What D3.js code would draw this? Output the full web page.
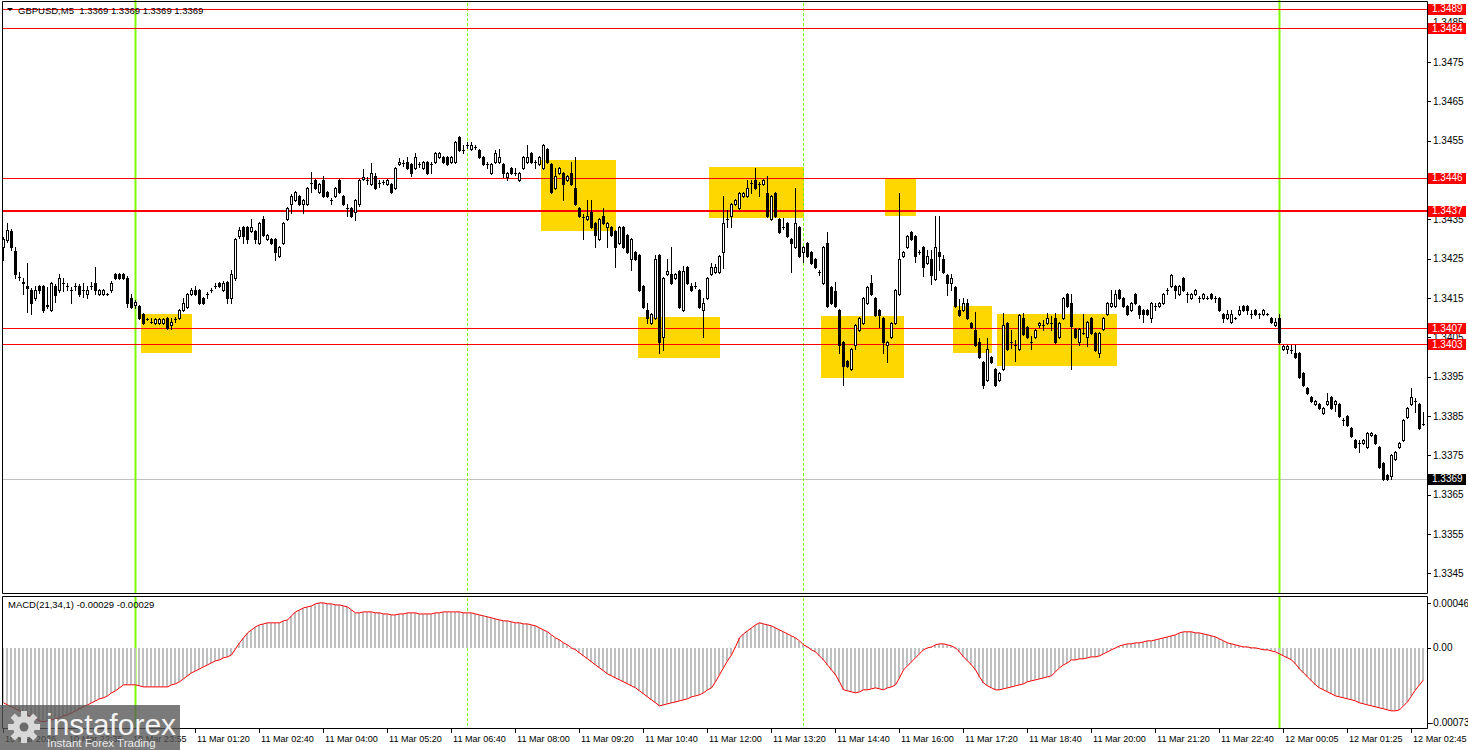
<!DOCTYPE html>
<html><head><meta charset="utf-8">
<script src="https://cdn.jsdelivr.net/npm/d3@7"></script>
<style>
body{margin:0;background:#fff}
svg{display:block}
text{font-family:"Liberation Sans",Arial,sans-serif;font-size:10px}
</style></head>
<body><svg id="c" width="1468" height="750"></svg>
<script>
// ---------------- DATA ----------------
const opens=[1.34280,1.34298,1.34320,1.34270,1.34204,1.34191,1.34181,1.34171,1.34150,1.34181,
1.34181,1.34132,1.34120,1.34181,1.34171,1.34188,1.34181,1.34171,1.34181,1.34181,
1.34171,1.34160,1.34181,1.34188,1.34160,1.34160,1.34160,1.34171,1.34211,1.34211,
1.34211,1.34201,1.34150,1.34132,1.34130,1.34109,1.34097,1.34089,1.34087,1.34087,
1.34087,1.34099,1.34082,1.34097,1.34099,1.34120,1.34127,1.34160,1.34171,1.34171,
1.34150,1.34160,1.34171,1.34181,1.34188,1.34171,1.34191,1.34150,1.34201,1.34308,
1.34331,1.34331,1.34320,1.34320,1.34290,1.34351,1.34300,1.34300,1.34300,1.34257,
1.34290,1.34351,1.34389,1.34399,1.34409,1.34389,1.34389,1.34442,1.34450,1.34420,
1.34450,1.34420,1.34399,1.34409,1.34450,1.34409,1.34379,1.34379,1.34369,1.34389,
1.34453,1.34450,1.34440,1.34460,1.34442,1.34445,1.34440,1.34440,1.34430,1.34491,
1.34493,1.34496,1.34491,1.34481,1.34491,1.34481,1.34496,1.34491,1.34496,1.34508,
1.34508,1.34508,1.34496,1.34496,1.34559,1.34526,1.34539,1.34529,1.34534,1.34526,
1.34508,1.34491,1.34468,1.34496,1.34496,1.34491,1.34458,1.34481,1.34468,1.34450,
1.34481,1.34496,1.34519,1.34496,1.34491,1.34481,1.34529,1.34491,1.34430,1.34468,
1.34468,1.34450,1.34468,1.34430,1.34379,1.34356,1.34351,1.34369,1.34341,1.34300,
1.34359,1.34331,1.34331,1.34320,1.34290,1.34331,1.34310,1.34249,1.34267,1.34259,
1.34181,1.34120,1.34087,1.34099,1.34259,1.34051,1.34211,1.34211,1.34201,1.34219,
1.34120,1.34229,1.34181,1.34181,1.34171,1.34120,1.34150,1.34211,1.34216,1.34216,
1.34267,1.34351,1.34359,1.34389,1.34379,1.34409,1.34409,1.34442,1.34450,1.34440,
1.34440,1.34417,1.34351,1.34417,1.34351,1.34331,1.34341,1.34300,1.34280,1.34331,
1.34267,1.34290,1.34267,1.34249,1.34216,1.34188,1.34290,1.34178,1.34168,1.34120,
1.34038,1.33990,1.33970,1.34031,1.34069,1.34087,1.34138,1.34188,1.34150,1.34120,
1.34099,1.34031,1.34051,1.34087,1.34160,1.34257,1.34280,1.34318,1.34308,1.34267,
1.34280,1.34239,1.34249,1.34198,1.34267,1.34249,1.34209,1.34188,1.34178,1.34120,
1.34120,1.34138,1.34087,1.34069,1.34038,1.33988,1.33942,1.34000,1.33970,1.33942,
1.33970,1.34087,1.34038,1.34031,1.34021,1.34099,1.34077,1.34038,1.34051,1.34082,
1.34082,1.34087,1.34087,1.34099,1.34051,1.34099,1.34160,1.34138,1.34071,1.34038,
1.34061,1.34051,1.34099,1.34061,1.34010,1.34071,1.34109,1.34130,1.34130,1.34171,
1.34150,1.34130,1.34120,1.34160,1.34130,1.34120,1.34120,1.34099,1.34130,1.34130,
1.34138,1.34171,1.34181,1.34181,1.34160,1.34201,1.34160,1.34150,1.34160,1.34150,
1.34150,1.34150,1.34160,1.34150,1.34150,1.34109,1.34099,1.34089,1.34099,1.34109,
1.34130,1.34130,1.34109,1.34120,1.34109,1.34109,1.34109,1.34099,1.34082,1.34099,
1.34021,1.34021,1.34018,1.34010,1.34010,1.33960,1.33922,1.33899,1.33881,1.33881,
1.33858,1.33881,1.33899,1.33881,1.33881,1.33840,1.33850,1.33820,1.33789,1.33782,
1.33782,1.33772,1.33802,1.33802,1.33772,1.33731,1.33700,1.33698,1.33741,1.33772,
1.33789,1.33848,1.33881,1.33888,1.33881,1.33830];

const highs=[1.34305,1.34341,1.34326,1.34280,1.34216,1.34201,1.34239,1.34176,1.34181,1.34183,
1.34183,1.34178,1.34191,1.34186,1.34211,1.34201,1.34188,1.34178,1.34188,1.34186,
1.34188,1.34181,1.34191,1.34229,1.34173,1.34173,1.34163,1.34193,1.34214,1.34214,
1.34214,1.34206,1.34160,1.34145,1.34132,1.34112,1.34099,1.34099,1.34099,1.34099,
1.34099,1.34102,1.34099,1.34102,1.34122,1.34150,1.34163,1.34176,1.34181,1.34173,
1.34153,1.34165,1.34176,1.34188,1.34191,1.34193,1.34193,1.34221,1.34303,1.34331,
1.34333,1.34333,1.34351,1.34323,1.34343,1.34359,1.34313,1.34303,1.34303,1.34282,
1.34343,1.34381,1.34414,1.34422,1.34412,1.34402,1.34432,1.34470,1.34453,1.34442,
1.34460,1.34422,1.34404,1.34432,1.34453,1.34412,1.34389,1.34381,1.34402,1.34453,
1.34478,1.34458,1.34493,1.34468,1.34450,1.34450,1.34453,1.34442,1.34483,1.34506,
1.34501,1.34508,1.34493,1.34519,1.34496,1.34498,1.34498,1.34496,1.34521,1.34521,
1.34511,1.34511,1.34511,1.34549,1.34562,1.34539,1.34547,1.34547,1.34539,1.34529,
1.34511,1.34496,1.34493,1.34526,1.34529,1.34493,1.34470,1.34483,1.34481,1.34470,
1.34511,1.34539,1.34521,1.34501,1.34511,1.34542,1.34531,1.34493,1.34481,1.34483,
1.34470,1.34463,1.34496,1.34508,1.34381,1.34364,1.34399,1.34399,1.34343,1.34354,
1.34379,1.34343,1.34333,1.34323,1.34333,1.34333,1.34313,1.34303,1.34270,1.34262,
1.34183,1.34138,1.34112,1.34259,1.34262,1.34204,1.34249,1.34280,1.34214,1.34221,
1.34232,1.34232,1.34188,1.34191,1.34173,1.34150,1.34204,1.34239,1.34237,1.34259,
1.34409,1.34374,1.34392,1.34402,1.34420,1.34420,1.34450,1.34450,1.34481,1.34445,
1.34453,1.34460,1.34412,1.34420,1.34354,1.34354,1.34343,1.34303,1.34430,1.34333,
1.34282,1.34293,1.34270,1.34252,1.34221,1.34282,1.34318,1.34181,1.34191,1.34122,
1.34041,1.33993,1.34023,1.34084,1.34102,1.34153,1.34181,1.34209,1.34153,1.34122,
1.34102,1.34041,1.34089,1.34173,1.34417,1.34270,1.34310,1.34320,1.34310,1.34272,
1.34282,1.34272,1.34272,1.34359,1.34359,1.34259,1.34211,1.34211,1.34181,1.34148,
1.34150,1.34148,1.34089,1.34115,1.34049,1.33990,1.34049,1.34003,1.33972,1.33962,
1.34112,1.34089,1.34069,1.34044,1.34109,1.34112,1.34079,1.34054,1.34071,1.34089,
1.34094,1.34112,1.34104,1.34112,1.34089,1.34153,1.34163,1.34160,1.34074,1.34074,
1.34109,1.34092,1.34102,1.34064,1.34064,1.34102,1.34140,1.34171,1.34171,1.34173,
1.34153,1.34132,1.34140,1.34163,1.34132,1.34122,1.34122,1.34140,1.34138,1.34140,
1.34163,1.34176,1.34211,1.34183,1.34183,1.34204,1.34165,1.34163,1.34173,1.34155,
1.34163,1.34155,1.34163,1.34155,1.34153,1.34112,1.34120,1.34120,1.34102,1.34130,
1.34132,1.34132,1.34120,1.34122,1.34112,1.34122,1.34112,1.34102,1.34099,1.34109,
1.34031,1.34031,1.34031,1.34031,1.34013,1.33962,1.33924,1.33901,1.33891,1.33883,
1.33873,1.33909,1.33901,1.33891,1.33883,1.33845,1.33853,1.33822,1.33792,1.33789,
1.33792,1.33810,1.33810,1.33805,1.33774,1.33733,1.33703,1.33754,1.33761,1.33784,
1.33843,1.33873,1.33922,1.33896,1.33883,1.33860];

const lows=[1.34247,1.34293,1.34272,1.34201,1.34196,1.34160,1.34115,1.34109,1.34145,1.34163,
1.34115,1.34125,1.34117,1.34140,1.34165,1.34168,1.34171,1.34138,1.34171,1.34155,
1.34153,1.34150,1.34173,1.34160,1.34158,1.34158,1.34158,1.34165,1.34198,1.34198,
1.34198,1.34127,1.34125,1.34125,1.34097,1.34084,1.34094,1.34087,1.34084,1.34084,
1.34084,1.34071,1.34071,1.34089,1.34097,1.34117,1.34125,1.34158,1.34158,1.34135,
1.34135,1.34150,1.34165,1.34176,1.34178,1.34168,1.34138,1.34138,1.34196,1.34303,
1.34290,1.34290,1.34318,1.34290,1.34287,1.34308,1.34298,1.34287,1.34247,1.34254,
1.34287,1.34348,1.34366,1.34397,1.34387,1.34366,1.34387,1.34420,1.34427,1.34417,
1.34407,1.34407,1.34389,1.34407,1.34417,1.34387,1.34359,1.34356,1.34348,1.34384,
1.34450,1.34440,1.34437,1.34427,1.34432,1.34440,1.34437,1.34417,1.34427,1.34488,
1.34486,1.34478,1.34460,1.34478,1.34483,1.34478,1.34465,1.34468,1.34493,1.34506,
1.34493,1.34488,1.34493,1.34493,1.34524,1.34519,1.34531,1.34526,1.34529,1.34506,
1.34488,1.34481,1.34465,1.34493,1.34493,1.34458,1.34450,1.34465,1.34463,1.34448,
1.34478,1.34493,1.34493,1.34481,1.34488,1.34478,1.34493,1.34417,1.34427,1.34465,
1.34399,1.34448,1.34437,1.34387,1.34356,1.34300,1.34348,1.34328,1.34280,1.34298,
1.34338,1.34280,1.34308,1.34229,1.34287,1.34277,1.34265,1.34221,1.34247,1.34168,
1.34125,1.34087,1.34084,1.34097,1.34010,1.34018,1.34209,1.34186,1.34198,1.34125,
1.34117,1.34186,1.34168,1.34176,1.34125,1.34051,1.34148,1.34209,1.34214,1.34214,
1.34226,1.34331,1.34331,1.34387,1.34376,1.34407,1.34407,1.34417,1.34427,1.34409,
1.34437,1.34356,1.34348,1.34356,1.34315,1.34326,1.34305,1.34216,1.34277,1.34254,
1.34242,1.34254,1.34237,1.34226,1.34209,1.34186,1.34127,1.34135,1.34127,1.34010,
1.33929,1.33975,1.33967,1.34021,1.34066,1.34084,1.34135,1.34158,1.34104,1.34077,
1.34010,1.33988,1.34049,1.34084,1.34158,1.34254,1.34277,1.34298,1.34242,1.34262,
1.34206,1.34237,1.34186,1.34196,1.34221,1.34214,1.34158,1.34171,1.34127,1.34104,
1.34117,1.34097,1.34074,1.34028,1.33998,1.33922,1.33939,1.33985,1.33927,1.33939,
1.33967,1.34018,1.34023,1.33990,1.34018,1.34056,1.34049,1.34021,1.34049,1.34077,
1.34069,1.34084,1.34069,1.34036,1.34049,1.34097,1.34127,1.33970,1.34049,1.34031,
1.34059,1.34028,1.34059,1.34016,1.34000,1.34069,1.34107,1.34127,1.34127,1.34148,
1.34127,1.34107,1.34117,1.34135,1.34099,1.34089,1.34107,1.34089,1.34120,1.34127,
1.34135,1.34160,1.34178,1.34150,1.34158,1.34168,1.34140,1.34148,1.34158,1.34140,
1.34148,1.34148,1.34148,1.34140,1.34117,1.34089,1.34097,1.34087,1.34097,1.34107,
1.34117,1.34109,1.34099,1.34107,1.34099,1.34107,1.34107,1.34087,1.34079,1.34036,
1.34018,1.34010,1.34010,1.33998,1.33947,1.33927,1.33906,1.33886,1.33878,1.33868,
1.33855,1.33878,1.33868,1.33863,1.33848,1.33828,1.33825,1.33797,1.33769,1.33759,
1.33779,1.33769,1.33800,1.33779,1.33718,1.33688,1.33688,1.33690,1.33739,1.33769,
1.33787,1.33845,1.33878,1.33860,1.33817,1.33828];

const closes=[1.34300,1.34323,1.34280,1.34211,1.34204,1.34188,1.34176,1.34138,1.34171,1.34171,
1.34120,1.34130,1.34188,1.34158,1.34201,1.34188,1.34181,1.34171,1.34181,1.34160,
1.34171,1.34171,1.34181,1.34171,1.34171,1.34171,1.34160,1.34188,1.34201,1.34201,
1.34201,1.34138,1.34127,1.34140,1.34099,1.34087,1.34097,1.34089,1.34097,1.34097,
1.34097,1.34074,1.34089,1.34097,1.34120,1.34138,1.34160,1.34171,1.34160,1.34138,
1.34138,1.34160,1.34171,1.34181,1.34181,1.34188,1.34150,1.34211,1.34300,1.34323,
1.34308,1.34300,1.34331,1.34300,1.34341,1.34310,1.34310,1.34290,1.34267,1.34280,
1.34341,1.34379,1.34409,1.34420,1.34389,1.34399,1.34430,1.34442,1.34430,1.34440,
1.34409,1.34409,1.34399,1.34430,1.34420,1.34389,1.34379,1.34359,1.34399,1.34450,
1.34458,1.34450,1.34468,1.34430,1.34442,1.34445,1.34450,1.34420,1.34481,1.34496,
1.34493,1.34481,1.34468,1.34508,1.34491,1.34496,1.34468,1.34491,1.34519,1.34519,
1.34496,1.34491,1.34508,1.34547,1.34526,1.34526,1.34539,1.34539,1.34534,1.34508,
1.34491,1.34491,1.34491,1.34519,1.34508,1.34468,1.34468,1.34468,1.34468,1.34468,
1.34508,1.34508,1.34496,1.34496,1.34508,1.34539,1.34496,1.34420,1.34460,1.34481,
1.34440,1.34460,1.34440,1.34389,1.34359,1.34356,1.34359,1.34331,1.34310,1.34351,
1.34341,1.34341,1.34310,1.34280,1.34331,1.34280,1.34267,1.34300,1.34249,1.34171,
1.34127,1.34099,1.34109,1.34249,1.34038,1.34201,1.34219,1.34188,1.34211,1.34127,
1.34219,1.34188,1.34171,1.34181,1.34127,1.34138,1.34201,1.34229,1.34229,1.34257,
1.34341,1.34351,1.34389,1.34399,1.34417,1.34417,1.34430,1.34442,1.34430,1.34440,
1.34450,1.34359,1.34409,1.34359,1.34318,1.34331,1.34308,1.34290,1.34341,1.34257,
1.34280,1.34257,1.34239,1.34229,1.34216,1.34280,1.34130,1.34138,1.34130,1.34031,
1.33977,1.33977,1.34021,1.34082,1.34099,1.34150,1.34178,1.34160,1.34107,1.34107,
1.34038,1.34038,1.34087,1.34171,1.34249,1.34267,1.34308,1.34300,1.34257,1.34267,
1.34229,1.34257,1.34209,1.34280,1.34257,1.34216,1.34188,1.34201,1.34130,1.34107,
1.34138,1.34099,1.34077,1.34031,1.34000,1.33929,1.34021,1.33988,1.33929,1.33960,
1.34082,1.34021,1.34038,1.34031,1.34107,1.34059,1.34051,1.34038,1.34069,1.34087,
1.34082,1.34099,1.34087,1.34038,1.34087,1.34150,1.34130,1.34079,1.34051,1.34071,
1.34061,1.34089,1.34061,1.34018,1.34061,1.34099,1.34138,1.34138,1.34160,1.34150,
1.34130,1.34109,1.34138,1.34138,1.34109,1.34109,1.34109,1.34138,1.34130,1.34138,
1.34160,1.34171,1.34209,1.34171,1.34181,1.34171,1.34160,1.34160,1.34171,1.34150,
1.34160,1.34150,1.34150,1.34150,1.34120,1.34099,1.34109,1.34109,1.34099,1.34120,
1.34120,1.34120,1.34109,1.34109,1.34109,1.34120,1.34109,1.34089,1.34089,1.34038,
1.34028,1.34028,1.34018,1.34000,1.33949,1.33929,1.33909,1.33888,1.33888,1.33871,
1.33871,1.33888,1.33871,1.33888,1.33850,1.33840,1.33828,1.33800,1.33772,1.33782,
1.33789,1.33807,1.33807,1.33782,1.33721,1.33690,1.33690,1.33751,1.33759,1.33782,
1.33840,1.33871,1.33899,1.33888,1.33820,1.33830];

const macd=[-0.000507,-0.000526,-0.000544,-0.000562,-0.000581,-0.000599,-0.000618,-0.000636,-0.000655,-0.000673,
-0.000682,-0.000673,-0.000664,-0.000655,-0.000645,-0.000627,-0.000618,-0.000599,-0.000581,-0.000562,
-0.000544,-0.000526,-0.000507,-0.000489,-0.000470,-0.000461,-0.000443,-0.000415,-0.000396,-0.000369,
-0.000341,-0.000341,-0.000341,-0.000341,-0.000350,-0.000360,-0.000360,-0.000360,-0.000360,-0.000360,
-0.000360,-0.000360,-0.000341,-0.000332,-0.000313,-0.000286,-0.000258,-0.000231,-0.000212,-0.000194,
-0.000175,-0.000157,-0.000138,-0.000120,-0.000111,-0.000092,-0.000083,-0.000065,-0.000009,0.000046,
0.000092,0.000138,0.000166,0.000194,0.000212,0.000221,0.000231,0.000231,0.000231,0.000231,
0.000249,0.000258,0.000295,0.000332,0.000350,0.000369,0.000378,0.000387,0.000406,0.000415,
0.000415,0.000406,0.000406,0.000396,0.000396,0.000387,0.000378,0.000350,0.000323,0.000323,
0.000332,0.000332,0.000332,0.000323,0.000323,0.000313,0.000313,0.000304,0.000304,0.000313,
0.000313,0.000323,0.000323,0.000323,0.000313,0.000313,0.000313,0.000313,0.000323,0.000323,
0.000332,0.000332,0.000332,0.000332,0.000332,0.000323,0.000323,0.000323,0.000313,0.000304,
0.000295,0.000286,0.000277,0.000267,0.000258,0.000249,0.000249,0.000240,0.000231,0.000231,
0.000221,0.000221,0.000212,0.000203,0.000184,0.000166,0.000148,0.000120,0.000092,0.000074,
0.000046,0.000028,0,-0.000018,-0.000046,-0.000074,-0.000101,-0.000129,-0.000157,-0.000184,
-0.000212,-0.000240,-0.000258,-0.000277,-0.000295,-0.000313,-0.000332,-0.000350,-0.000369,-0.000396,
-0.000424,-0.000452,-0.000479,-0.000507,-0.000535,-0.000526,-0.000516,-0.000507,-0.000498,-0.000489,
-0.000479,-0.000470,-0.000452,-0.000443,-0.000433,-0.000415,-0.000387,-0.000369,-0.000313,-0.000249,
-0.000184,-0.000120,-0.000065,0.000009,0.000092,0.000129,0.000157,0.000184,0.000212,0.000231,
0.000221,0.000212,0.000203,0.000184,0.000166,0.000148,0.000129,0.000111,0.000092,0.000065,
0.000028,0.000009,-0.000018,-0.000037,-0.000074,-0.000111,-0.000157,-0.000203,-0.000249,-0.000313,
-0.000387,-0.000396,-0.000406,-0.000415,-0.000406,-0.000387,-0.000387,-0.000378,-0.000369,-0.000378,
-0.000387,-0.000369,-0.000360,-0.000341,-0.000277,-0.000203,-0.000166,-0.000129,-0.000092,-0.000055,
-0.000018,0,0.000009,0.000028,0.000037,0.000037,0.000028,0.000018,0,-0.000037,
-0.000083,-0.000120,-0.000157,-0.000203,-0.000267,-0.000323,-0.000350,-0.000369,-0.000387,-0.000387,
-0.000378,-0.000369,-0.000360,-0.000350,-0.000341,-0.000332,-0.000313,-0.000304,-0.000295,-0.000286,
-0.000277,-0.000267,-0.000258,-0.000221,-0.000184,-0.000157,-0.000138,-0.000111,-0.000111,-0.000101,
-0.000101,-0.000092,-0.000083,-0.000083,-0.000074,-0.000055,-0.000037,-0.000018,0,0.000018,
0.000028,0.000037,0.000037,0.000046,0.000046,0.000055,0.000065,0.000065,0.000074,0.000083,
0.000092,0.000101,0.000111,0.000120,0.000138,0.000148,0.000148,0.000148,0.000138,0.000138,
0.000129,0.000120,0.000111,0.000101,0.000083,0.000065,0.000046,0.000037,0.000028,0.000018,
0.000009,0.000009,0,0,-0.000009,-0.000018,-0.000018,-0.000028,-0.000037,-0.000055,
-0.000074,-0.000092,-0.000111,-0.000148,-0.000194,-0.000231,-0.000267,-0.000304,-0.000341,-0.000369,
-0.000387,-0.000406,-0.000424,-0.000443,-0.000452,-0.000461,-0.000470,-0.000479,-0.000489,-0.000507,
-0.000516,-0.000526,-0.000535,-0.000544,-0.000553,-0.000562,-0.000572,-0.000581,-0.000581,-0.000572,
-0.000535,-0.000498,-0.000443,-0.000387,-0.000341,-0.000295];

const priceTicks=[1.3345,1.3355,1.3365,1.3375,1.3385,1.3395,1.3405,1.3415,1.3425,1.3435,1.3445,1.3455,1.3465,1.3475,1.3485];
const levels=[1.34886,1.34836,1.34456,1.34372,1.34073,1.34032];
const currentPrice=1.3369;
const macdTicks=[0.00046,0,-0.00073];
const macdTickLabels=["0.00046","0.00","-0.00073"];
const timeLabelBars=[0,16,32,48,64,80,96,112,128,144,160,176,192,208,224,240,256,272,288,304,320,336,352];
const timeLabels=["10 Mar 2026","10 Mar 22:35","10 Mar 23:55","11 Mar 01:20","11 Mar 02:40","11 Mar 04:00","11 Mar 05:20","11 Mar 06:40","11 Mar 08:00","11 Mar 09:20","11 Mar 10:40","11 Mar 12:00","11 Mar 13:20","11 Mar 14:40","11 Mar 16:00","11 Mar 17:20","11 Mar 18:40","11 Mar 20:00","11 Mar 21:20","11 Mar 22:40","12 Mar 00:05","12 Mar 01:25","12 Mar 02:45"];
const dayLines=[33,319];
const sessionLines=[116,200];
// highlighted zones: start bar, end bar, upper price, lower price
const zoneStart=[35,135,159.25,177,205,221,238,249];
const zoneEnd=[46.75,152.75,178.75,199.75,224.75,227.75,246.75,278];
const zoneHigh=[1.34109,1.34501,1.34102,1.34483,1.34104,1.34455,1.34130,1.34109];
const zoneLow=[1.34010,1.34320,1.33998,1.34354,1.33947,1.34359,1.34010,1.33977];
const headerText="GBPUSD,M5  1.3369 1.3369 1.3369 1.3369";
const macdText="MACD(21,34,1) -0.00029 -0.00029";

// ---------------- DRAW ----------------
const svg=d3.select('#c');
const N=closes.length;
const x=d3.scaleLinear().domain([0,N-1]).range([3,1423]);
const y=d3.scaleLinear().domain([1.3340,1.3490]).range([593,3]);
const ym=d3.scaleLinear().domain([-0.00073,0.00046]).range([727,598]);
const cx=i=>Math.round(x(i));
const R=1427.5, L=2.5;

svg.append('rect').attr('width',1468).attr('height',750).attr('fill','#fff');

// zones
const zones=d3.range(zoneStart.length);
svg.append('g').selectAll('rect').data(zones).join('rect')
 .attr('x',k=>Math.round(x(zoneStart[k])-2)).attr('width',k=>Math.round(x(zoneEnd[k])-x(zoneStart[k])+4))
 .attr('y',k=>Math.round(y(zoneHigh[k]))).attr('height',k=>Math.round(y(zoneLow[k])-y(zoneHigh[k])))
 .attr('fill','#FFD700');

// current price line
svg.append('line').attr('x1',L).attr('x2',R).attr('y1',Math.round(y(currentPrice))+0.5).attr('y2',Math.round(y(currentPrice))+0.5)
 .attr('stroke','#c0c0c0').attr('stroke-width',1);

// session dashed lines
svg.append('g').selectAll('line').data(sessionLines).join('line')
 .attr('x1',d=>cx(d)+0.5).attr('x2',d=>cx(d)+0.5).attr('y1',3).attr('y2',728)
 .attr('stroke','#7CFC00').attr('stroke-dasharray','3,2').attr('stroke-width',1);

// day lines
svg.append('g').selectAll('line').data(dayLines).join('line')
 .attr('x1',d=>cx(d)+0.5).attr('x2',d=>cx(d)+0.5).attr('y1',0).attr('y2',728)
 .attr('stroke','#7CFC00').attr('stroke-width',2);

// level lines
svg.append('g').selectAll('line').data(levels).join('line')
 .attr('x1',L).attr('x2',R)
 .attr('y1',(d,k)=>Math.round(y(d))+(k===3?0:0.5)).attr('y2',(d,k)=>Math.round(y(d))+(k===3?0:0.5))
 .attr('stroke','#ff0000').attr('stroke-width',(d,k)=>k===3?2:1);

// candles
const cg=svg.append('g');
d3.range(N).forEach(i=>{
  const c=cx(i);
  const yh=Math.round(y(highs[i])), yl=Math.round(y(lows[i]));
  cg.append('rect').attr('x',c).attr('y',yh).attr('width',1).attr('height',Math.max(1,yl-yh+1)).attr('fill','#000');
  const o=opens[i], cl=closes[i];
  const yt=Math.round(y(Math.max(o,cl))), yb=Math.round(y(Math.min(o,cl)));
  if(cl>o && yb-yt>=1){
    cg.append('rect').attr('x',c-0.5).attr('y',yt+0.5).attr('width',2).attr('height',yb-yt)
      .attr('fill','#fff').attr('stroke','#000').attr('stroke-width',1);
  } else {
    cg.append('rect').attr('x',c-1).attr('y',yt).attr('width',3).attr('height',Math.max(1,yb-yt+1)).attr('fill','#000');
  }
});

// MACD histogram
const z0=Math.round(ym(0));
svg.append('g').selectAll('rect').data(macd).join('rect')
 .attr('x',(d,i)=>cx(i)-1).attr('width',2)
 .attr('y',d=>Math.min(z0,Math.round(ym(d)))).attr('height',d=>Math.max(1,Math.abs(Math.round(ym(d))-z0)))
 .attr('fill','#c0c0c0');
svg.append('path').datum(macd)
 .attr('d',d3.line().x((d,i)=>cx(i)+0.5).y(d=>ym(d)))
 .attr('fill','none').attr('stroke','#ff0000').attr('stroke-width',1);

// white area right of the plots (axis)
svg.append('rect').attr('x',1428).attr('y',0).attr('width',40).attr('height',750).attr('fill','#fff');
svg.append('rect').attr('x',0).attr('y',594).attr('width',1468).attr('height',2).attr('fill','#fff');
svg.append('rect').attr('x',0).attr('y',729).attr('width',1468).attr('height',21).attr('fill','#fff');

// frames
const fr=svg.append('g').attr('stroke','#000').attr('stroke-width',1).attr('fill','none');
fr.append('path').attr('d',`M${L},1.5H${R}V593.5H${L}Z`);
fr.append('path').attr('d',`M${L},596.5H${R}V728.5H${L}Z`);

// price axis
const pa=svg.append('g');
pa.selectAll('line').data(priceTicks).join('line')
 .attr('x1',1428).attr('x2',1431).attr('y1',d=>Math.round(y(d))+0.5).attr('y2',d=>Math.round(y(d))+0.5).attr('stroke','#000');
pa.selectAll('text').data(priceTicks).join('text')
 .attr('x',1433).attr('y',d=>y(d)+3.5).text(d=>d.toFixed(4)).attr('fill','#000');

// level labels
const lg=svg.append('g');
lg.selectAll('rect').data(levels).join('rect')
 .attr('x',1428).attr('y',d=>Math.round(y(d))-5).attr('width',38).attr('height',11).attr('fill','#ff0000');
lg.selectAll('text').data(levels).join('text')
 .attr('x',1432).attr('y',d=>y(d)+3.5).text(d=>d.toFixed(4)).attr('fill','#fff');
lg.append('rect').attr('x',1428).attr('y',Math.round(y(currentPrice))-5).attr('width',38).attr('height',11).attr('fill','#000');
lg.append('text').attr('x',1432).attr('y',y(currentPrice)+3.5).text(currentPrice.toFixed(4)).attr('fill','#fff');

// macd axis
const ma=svg.append('g');
const macdLabelY=[ym(macdTicks[0])+5,ym(macdTicks[1]),ym(macdTicks[2])-4.5];
ma.selectAll('line').data(macdTicks).join('line')
 .attr('x1',1428).attr('x2',1431).attr('y1',(d,k)=>Math.round(macdLabelY[k])+0.5).attr('y2',(d,k)=>Math.round(macdLabelY[k])+0.5).attr('stroke','#000');
ma.selectAll('text').data(macdTicks).join('text')
 .attr('x',(d,k)=>k===2?1430:1433).attr('y',(d,k)=>macdLabelY[k]+3.5).text((d,k)=>macdTickLabels[k]);

// time axis
const ta=svg.append('g');
ta.selectAll('line').data(timeLabelBars).join('line')
 .attr('x1',d=>cx(d)+0.5).attr('x2',d=>cx(d)+0.5).attr('y1',729).attr('y2',733).attr('stroke','#000');
ta.selectAll('text').data(timeLabelBars).join('text')
 .attr('x',d=>cx(d)+2).attr('y',742).text((d,k)=>timeLabels[k]).style('font-size','9.1px');

// header texts
svg.append('path').attr('d','M7,8H13L10,11Z').attr('fill','#000');
svg.append('text').attr('x',18).attr('y',13.5).text(headerText).style('white-space','pre').style('font-size','9.5px');
svg.append('text').attr('x',8).attr('y',608).text(macdText).style('font-size','9.5px');

// watermark
const wm=svg.append('g');
wm.append('rect').attr('x',0).attr('y',705).attr('width',180).attr('height',45).attr('fill','rgba(85,85,85,0.78)');
const gear=wm.append('g').attr('transform','translate(24,727)').attr('fill','#d8d8d8');
d3.range(8).forEach(k=>{gear.append('rect').attr('x',-3).attr('y',-16).attr('width',6).attr('height',7).attr('transform',`rotate(${k*45})`);});
gear.append('circle').attr('r',11);
gear.append('circle').attr('r',4.5).attr('fill','#6a6a6a');
wm.append('text').attr('x',46).attr('y',735).text('instaforex').style('font-size','30px').attr('fill','#f2f2f2');
wm.append('text').attr('x',47).attr('y',747).text('Instant Forex Trading').style('font-size','11.5px').attr('fill','#e8e8e8');
</script>
</body></html>
